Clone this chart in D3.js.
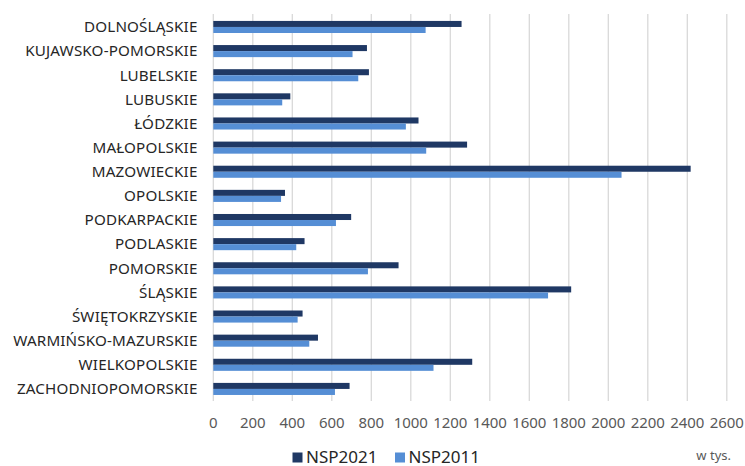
<!DOCTYPE html>
<html><head><meta charset="utf-8">
<script src="https://cdn.jsdelivr.net/npm/d3@7"></script>
<style>body{margin:0;background:#fff;}svg{display:block;font-family:"Noto Sans",sans-serif;}</style>
</head><body><svg id="c" width="745" height="466"></svg>
<script>
const categories = ["DOLNOŚLĄSKIE","KUJAWSKO-POMORSKIE","LUBELSKIE","LUBUSKIE","ŁÓDZKIE","MAŁOPOLSKIE","MAZOWIECKIE","OPOLSKIE","PODKARPACKIE","PODLASKIE","POMORSKIE","ŚLĄSKIE","ŚWIĘTOKRZYSKIE","WARMIŃSKO-MAZURSKIE","WIELKOPOLSKIE","ZACHODNIOPOMORSKIE"];
const nsp2021 = [1257,778,788,390,1039,1285,2417,363,698,462,938,1812,452,530,1311,690];
const nsp2011 = [1075,705,734,349,975,1078,2067,343,621,420,783,1695,427,486,1115,616];
const seriesNames = ["NSP2021","NSP2011"];
const tickValues = [0,200,400,600,800,1000,1200,1400,1600,1800,2000,2200,2400,2600];
const unitLabel = "w tys.";
const colors = ["#1f3864","#558ed5"];

const svg = d3.select("#c");
const x = d3.scaleLinear().domain([0,2600]).range([213.3,726.8]);
const y = d3.scaleBand().domain(categories).range([14.9,401]).paddingInner(0.5).paddingOuter(0.25);
const sub = d3.scaleBand().domain(seriesNames).range([0,y.bandwidth()]);

// gridlines
svg.append("g").selectAll("line").data(tickValues).join("line")
  .attr("x1",d=>x(d)).attr("x2",d=>x(d)).attr("y1",14).attr("y2",401)
  .attr("stroke","#d9d9d9").attr("stroke-width",1.3);

const data = [nsp2021, nsp2011];
data.forEach((vals,si)=>{
  svg.append("g").selectAll("rect").data(vals).join("rect")
    .attr("x",x(0)).attr("y",(d,i)=>y(categories[i])+sub(seriesNames[si]))
    .attr("width",d=>x(d)-x(0)).attr("height",sub.bandwidth())
    .attr("fill",colors[si]);
});

// category labels
svg.append("g").selectAll("text").data(categories).join("text")
  .attr("x",197.5).attr("y",d=>y(d)+y.bandwidth()/2).attr("dy","0.35em")
  .attr("text-anchor","end").attr("font-size",15.2).attr("letter-spacing",0.15)
  .attr("fill","#262626").text(d=>d);

// x tick labels
svg.append("g").selectAll("text").data(tickValues).join("text")
  .attr("x",d=>x(d)).attr("y",423).attr("dy","0.35em")
  .attr("text-anchor","middle").attr("font-size",15).attr("fill","#595959").text(d=>d);

// legend
const leg = [{n:seriesNames[0],x:292.5},{n:seriesNames[1],x:395}];
leg.forEach((l,i)=>{
  svg.append("rect").attr("x",l.x).attr("y",452.5).attr("width",10).attr("height",10).attr("fill",colors[i]);
  svg.append("text").attr("x",l.x+13.5).attr("y",462.5).attr("font-size",17).attr("fill","#262626").text(l.n);
});
svg.append("text").attr("x",731).attr("y",455).attr("dy","0.35em").attr("text-anchor","end")
  .attr("font-size",13).attr("fill","#595959").text(unitLabel);
</script></body></html>
